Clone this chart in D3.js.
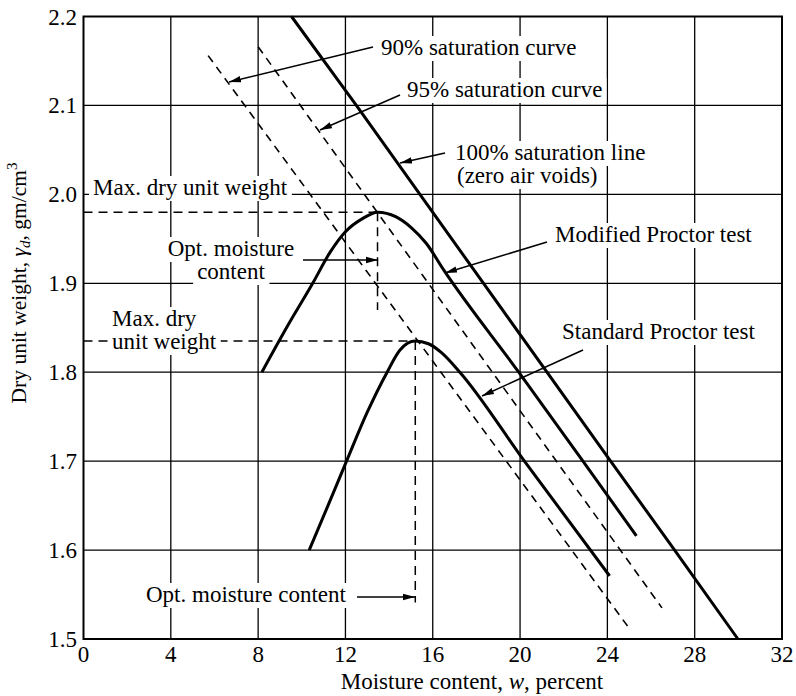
<!DOCTYPE html>
<html><head><meta charset="utf-8">
<script src="https://cdn.jsdelivr.net/npm/d3@7"></script>
<style>
body{margin:0;background:#fff}
svg{display:block}
text{font-family:"Liberation Serif","Times New Roman",serif;fill:#000}
</style>
</head><body>
<svg id="chart" width="796" height="696"></svg>
<script>
// ---------- data ----------
const moistureTicks = [0, 4, 8, 12, 16, 20, 24, 28, 32];
const unitWeightTicks = [1.5, 1.6, 1.7, 1.8, 1.9, 2.0, 2.1, 2.2];
const zeroAirVoids = [[9.53, 2.2], [12.5, 2.1], [24.0, 1.705], [27.08, 1.6], [29.98, 1.5]];
const saturation95 = [[8.0, 2.166], [26.5, 1.535]];
const saturation90 = [[5.71, 2.156], [24.94, 1.514]];
const modifiedProctor = [[8.17, 1.80], [9.3, 1.85], [10.5, 1.90], [11.3, 1.935], [12.0, 1.958], [12.8, 1.973],
  [13.47, 1.98], [14.3, 1.975], [15.0, 1.963], [15.7, 1.945], [16.5, 1.915], [19.94, 1.80], [22.88, 1.70], [25.33, 1.616]];
const standardProctor = [[10.34, 1.60], [11.2, 1.65], [12.05, 1.70], [13.0, 1.755], [13.91, 1.80], [14.5, 1.825],
  [15.2, 1.835], [15.8, 1.832], [16.4, 1.822], [17.24, 1.80], [20.2, 1.70], [24.1, 1.571]];
const modifiedPeak = [13.47, 1.98];
const modifiedOptBottom = 1.87;
const standardPeak = [15.2, 1.835];
const standardOptBottom = 1.541;

// ---------- layout ----------
const svg = d3.select("#chart");
const x = d3.scaleLinear().domain([0, 32]).range([83.5, 782]);
const y = d3.scaleLinear().domain([1.5, 2.2]).range([639, 16.5]);
const FS = 23;

// grid
const grid = svg.append("g").attr("stroke", "#000").attr("stroke-width", 1.3);
grid.selectAll("line.v").data(moistureTicks.slice(1, -1)).join("line")
  .attr("x1", d => x(d)).attr("x2", d => x(d)).attr("y1", y(2.2)).attr("y2", y(1.5));
grid.selectAll("line.h").data(unitWeightTicks.slice(1, -1)).join("line")
  .attr("y1", d => y(d)).attr("y2", d => y(d)).attr("x1", x(0)).attr("x2", x(32));

// dashed guide lines
const guides = svg.append("g").attr("stroke", "#000").attr("stroke-width", 1.5)
  .attr("stroke-dasharray", "9,6").attr("fill", "none");
guides.append("line").attr("x1", x(0)).attr("x2", x(modifiedPeak[0])).attr("y1", y(modifiedPeak[1])).attr("y2", y(modifiedPeak[1]));
guides.append("line").attr("x1", x(modifiedPeak[0])).attr("x2", x(modifiedPeak[0])).attr("y1", y(modifiedPeak[1])).attr("y2", y(modifiedOptBottom));
guides.append("line").attr("x1", x(0)).attr("x2", x(standardPeak[0])).attr("y1", y(standardPeak[1])).attr("y2", y(standardPeak[1]));
guides.append("line").attr("x1", x(standardPeak[0])).attr("x2", x(standardPeak[0])).attr("y1", y(standardPeak[1])).attr("y2", y(standardOptBottom));

// labels with white backing
const labels = [
  {t: "90% saturation curve", x: 381, y: 55, a: "start"},
  {t: "95% saturation curve", x: 407, y: 97, a: "start"},
  {t: "100% saturation line", x: 455, y: 160, a: "start"},
  {t: "(zero air voids)", x: 457, y: 183, a: "start"},
  {t: "Max. dry unit weight", x: 93, y: 195, a: "start"},
  {t: "Opt. moisture", x: 231, y: 256, a: "middle"},
  {t: "content", x: 231, y: 279, a: "middle"},
  {t: "Max. dry", x: 112, y: 326, a: "start"},
  {t: "unit weight", x: 112, y: 349, a: "start"},
  {t: "Modified Proctor test", x: 555, y: 242, a: "start"},
  {t: "Standard Proctor test", x: 562, y: 339, a: "start"},
  {t: "Opt. moisture content", x: 146, y: 602, a: "start"}
];
const bg = svg.append("g");
const lab = svg.append("g").attr("font-size", FS);
labels.forEach(l => {
  const t = lab.append("text").attr("x", l.x).attr("y", l.y).attr("text-anchor", l.a).text(l.t);
  const b = t.node().getBBox();
  bg.append("rect").attr("x", b.x - 4).attr("y", b.y + 1).attr("width", b.width + 8).attr("height", b.height).attr("fill", "#fff");
});

// frame
svg.append("rect").attr("x", x(0)).attr("y", y(2.2)).attr("width", x(32) - x(0)).attr("height", y(1.5) - y(2.2))
  .attr("fill", "none").attr("stroke", "#000").attr("stroke-width", 2);

// curves
const line = d3.line().x(d => x(d[0])).y(d => y(d[1]));
const smooth = d3.line().x(d => x(d[0])).y(d => y(d[1])).curve(d3.curveMonotoneX);
svg.append("path").datum(saturation90).attr("d", line).attr("fill", "none").attr("stroke", "#000").attr("stroke-width", 1.6).attr("stroke-dasharray", "8,6");
svg.append("path").datum(saturation95).attr("d", line).attr("fill", "none").attr("stroke", "#000").attr("stroke-width", 1.6).attr("stroke-dasharray", "8,6");
svg.append("path").datum(zeroAirVoids).attr("d", line).attr("fill", "none").attr("stroke", "#000").attr("stroke-width", 3);
svg.append("path").datum(modifiedProctor).attr("d", smooth).attr("fill", "none").attr("stroke", "#000").attr("stroke-width", 3);
svg.append("path").datum(standardProctor).attr("d", smooth).attr("fill", "none").attr("stroke", "#000").attr("stroke-width", 3);

// arrows
svg.append("defs").append("marker").attr("id", "ah").attr("viewBox", "0 0 12 8").attr("refX", 12).attr("refY", 4)
  .attr("markerWidth", 12).attr("markerHeight", 8).attr("markerUnits", "userSpaceOnUse").attr("orient", "auto")
  .append("path").attr("d", "M0,0.8 L12,4 L0,7.2 Z").attr("fill", "#000");
const arrows = [
  [373, 47, 229, 82], [400, 95, 320, 130], [445, 153, 400, 163], [303, 260, 378, 260],
  [547, 242, 445, 273], [583, 350, 482, 396], [357, 597, 415, 597]
];
svg.append("g").selectAll("line").data(arrows).join("line")
  .attr("x1", d => d[0]).attr("y1", d => d[1]).attr("x2", d => d[2]).attr("y2", d => d[3])
  .attr("stroke", "#000").attr("stroke-width", 1.5).attr("marker-end", "url(#ah)");

// tick labels
svg.append("g").attr("font-size", FS).selectAll("text").data(unitWeightTicks).join("text")
  .attr("x", 77).attr("y", d => y(d)).attr("dy", "0.35em").attr("text-anchor", "end").text(d => d.toFixed(1));
svg.append("g").attr("font-size", FS).selectAll("text").data(moistureTicks).join("text")
  .attr("x", d => x(d)).attr("y", 662).attr("text-anchor", "middle").text(d => d);

// axis titles
const xt = svg.append("text").attr("x", 472).attr("y", 689).attr("text-anchor", "middle").attr("font-size", FS);
xt.append("tspan").text("Moisture content, ");
xt.append("tspan").attr("font-style", "italic").text("w");
xt.append("tspan").text(", percent");
const yt = svg.append("text").attr("transform", "translate(26,283) rotate(-90)").attr("text-anchor", "middle").attr("font-size", 21.5);
yt.append("tspan").text("Dry unit weight, ");
yt.append("tspan").attr("font-style", "italic").text("γ");
yt.append("tspan").attr("font-style", "italic").attr("font-size", 15).attr("dy", 4).text("d");
yt.append("tspan").attr("dy", -4).text(", gm/cm");
yt.append("tspan").attr("font-size", 15).attr("dy", -9).text("3");
</script>
</body></html>
